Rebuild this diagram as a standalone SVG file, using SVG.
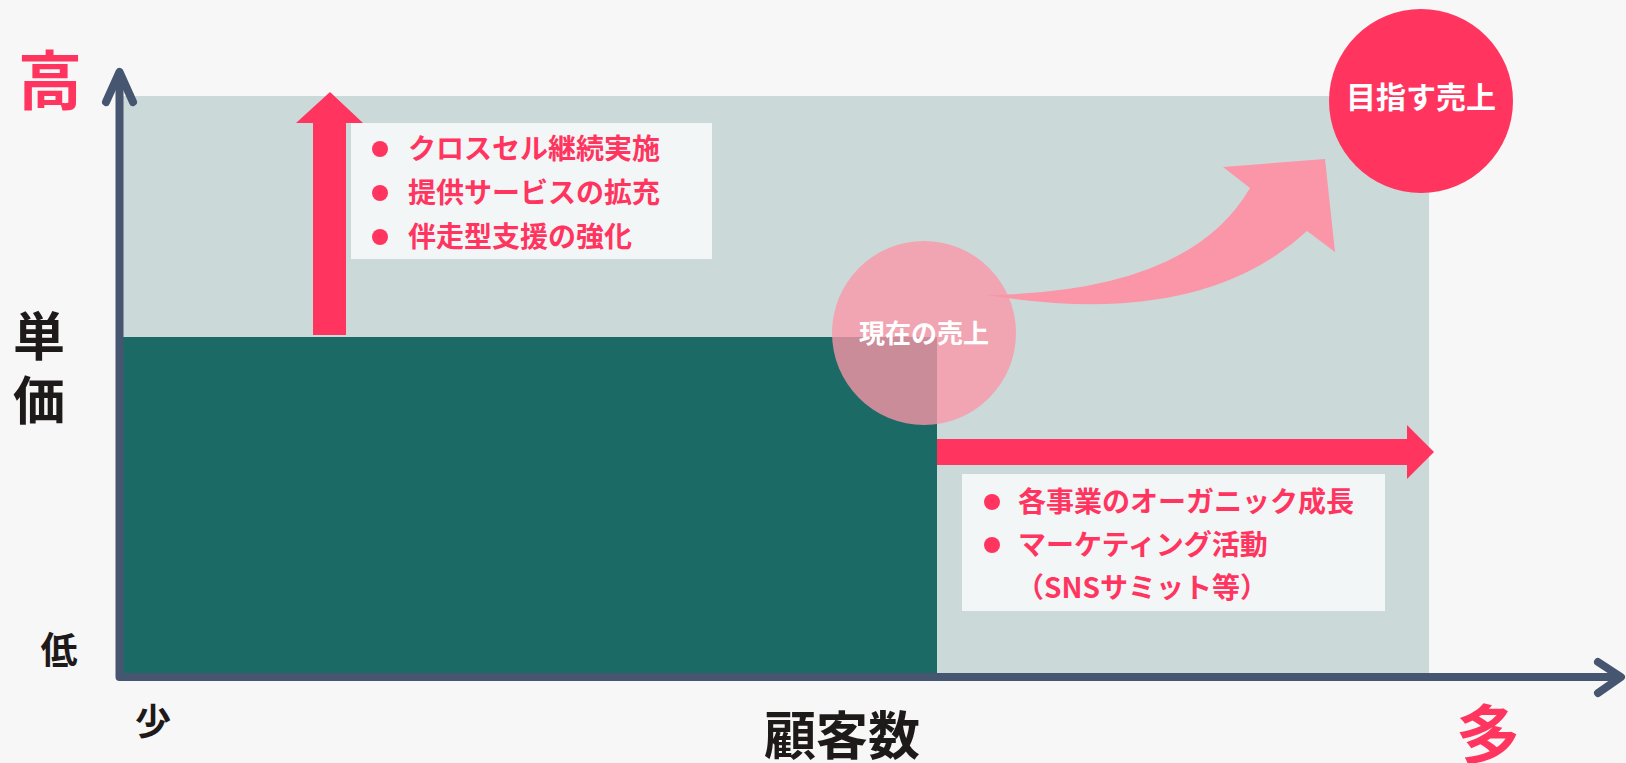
<svg xmlns="http://www.w3.org/2000/svg" width="1626" height="763" viewBox="0 0 1626 763">
<style>
.jp{font-family:"Noto Sans CJK JP","Noto Sans CJK SC",sans-serif;font-weight:bold}
.lbl{fill:#ff3560;font-size:28px}
.ax{fill:none;stroke:#465670;stroke-width:8;stroke-linecap:round;stroke-linejoin:round}
.red{fill:#ff3560}
.dot{fill:#ff3560}
.box{fill:#f2f6f7}
</style>
<rect width="1626" height="763" fill="#f7f7f7"/>
<g id="area-potential"><rect x="123" y="96" width="1306" height="577" fill="#cbd9d9"/></g>
<g id="area-current"><rect x="123" y="337" width="814" height="336" fill="#1b6a65"/></g>
<g id="connectors">
<polygon class="red" points="313,335 313,123 296,123 330,92 363,123 346,123 346,335"/>
<polygon class="red" points="937,439 1407,439 1407,425 1434,452 1407,479 1407,465 937,465"/>
<path fill="#fb96a8" d="M987,295 Q1190,292 1250,188 L1223,167 L1325,159 L1335,252 L1307,231 Q1200,330 987,295 Z"/>
<polyline class="ax" points="106,102 119.5,72 133,102"/>
<polyline class="ax" points="119.5,74 119.5,677 1618,677"/>
<polyline class="ax" points="1598,662 1621,677 1598,693"/>
</g>
<g id="box-price">
<rect class="box" x="351" y="123" width="361" height="136"/>
<circle class="dot" cx="380" cy="149" r="8"/>
<circle class="dot" cx="380" cy="193" r="8"/>
<circle class="dot" cx="380" cy="237" r="8"/>
<text class="jp lbl" x="408" y="159">クロスセル継続実施</text>
<text class="jp lbl" x="408" y="203">提供サービスの拡充</text>
<text class="jp lbl" x="408" y="247">伴走型支援の強化</text>
</g>
<g id="box-customers">
<rect class="box" x="962" y="474" width="423" height="137"/>
<circle class="dot" cx="992" cy="502" r="8"/>
<circle class="dot" cx="992" cy="545" r="8"/>
<text class="jp lbl" x="1018" y="512">各事業のオーガニック成長</text>
<text class="jp lbl" x="1018" y="555">マーケティング活動</text>
<text class="jp lbl" x="1016" y="598">（SNSサミット等）</text>
</g>
<g id="current-sales">
<circle cx="924" cy="333" r="92" fill="#fb96a8" fill-opacity="0.78"/>
<text class="jp" x="924" y="343" font-size="26" fill="#ffffff" text-anchor="middle">現在の売上</text>
</g>
<g id="target-sales">
<circle cx="1421" cy="101" r="92" fill="#ff3560"/>
<text class="jp" x="1421" y="108" font-size="30" fill="#ffffff" text-anchor="middle">目指す売上</text>
</g>
<g id="axis-labels">
<text class="jp" x="50" y="104" font-size="64" fill="#ff3560" text-anchor="middle">高</text>
<text class="jp" font-size="52" fill="#1e1a1a" text-anchor="middle"><tspan x="39" y="356">単</tspan><tspan x="39" y="420">価</tspan></text>
<text class="jp" x="59" y="664" font-size="37" fill="#1e1a1a" text-anchor="middle">低</text>
<text class="jp" x="153" y="735" font-size="36" fill="#1e1a1a" text-anchor="middle">少</text>
<text class="jp" x="842" y="755" font-size="52" fill="#1e1a1a" text-anchor="middle">顧客数</text>
<text class="jp" x="1488" y="758" font-size="64" fill="#ff3560" text-anchor="middle">多</text>
</g>
</svg>
